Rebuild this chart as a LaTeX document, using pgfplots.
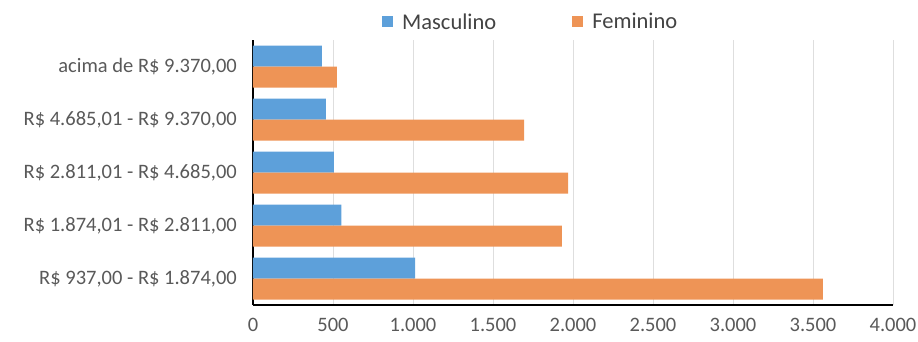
\documentclass[border=0pt]{standalone}
\usepackage{pgfplots}
\pgfplotsset{compat=1.18}
\usepackage{fontspec}
\setmainfont{Carlito}
\definecolor{masc}{RGB}{93,160,218}
\definecolor{fem}{RGB}{238,148,86}
\definecolor{txt}{RGB}{89,89,89}
\definecolor{grd}{RGB}{222,222,222}
\begin{document}
\begin{tikzpicture}
\useasboundingbox (-253pt,-36pt) rectangle (665pt,305pt);
\begin{axis}[
  scale only axis,
  width=640pt, height=265pt,
  xbar,
  xmin=0, xmax=4000,
  ymin=-0.5, ymax=4.5,
  xtick={0,500,...,4000},
  ytick={0,1,2,3,4},
  yticklabels={{R\$ 937,00 - R\$ 1.874,00}, {R\$ 1.874,01 - R\$ 2.811,00}, {R\$ 2.811,01 - R\$ 4.685,00}, {R\$ 4.685,01 - R\$ 9.370,00}, {acima de R\$ 9.370,00}},
  xmajorgrids, major grid style={grd, line width=0.8pt},
  major tick length=0pt,
  axis x line*=bottom, axis y line*=left,
  axis line style={black, line width=1.6pt, -},
  /pgf/number format/.cd, use comma, 1000 sep={.}, assume math mode=true,
  /pgfplots/.cd,
  tick label style={font=\fontsize{20.5}{24}\selectfont, text=txt},
  yticklabel style={inner sep=0pt, xshift=-16pt},
  xticklabel style={inner sep=0pt, yshift=-13pt},
  bar width=21pt,
  legend style={at={(0.434,1.068)}, anchor=center, draw=none, fill=none,
    font=\fontsize{22.5}{26}\selectfont, text=txt!75!black,
    /tikz/every odd column/.append style={column sep=7pt},
    /tikz/every even column/.append style={column sep=74pt}},
  legend columns=2,
  legend image code/.code={\fill[#1] (0pt,-5.5pt) rectangle (11pt,5.5pt);},
]
\addplot[fill=masc, draw=none, bar shift=10.5pt] coordinates {(1013,0) (553,1) (506,2) (456,3) (431,4)};
\addplot[fill=fem, draw=none, bar shift=-10.5pt] coordinates {(3562,0) (1931,1) (1969,2) (1694,3) (525,4)};
\legend{Masculino, Feminino}
\end{axis}
\end{tikzpicture}
\end{document}
